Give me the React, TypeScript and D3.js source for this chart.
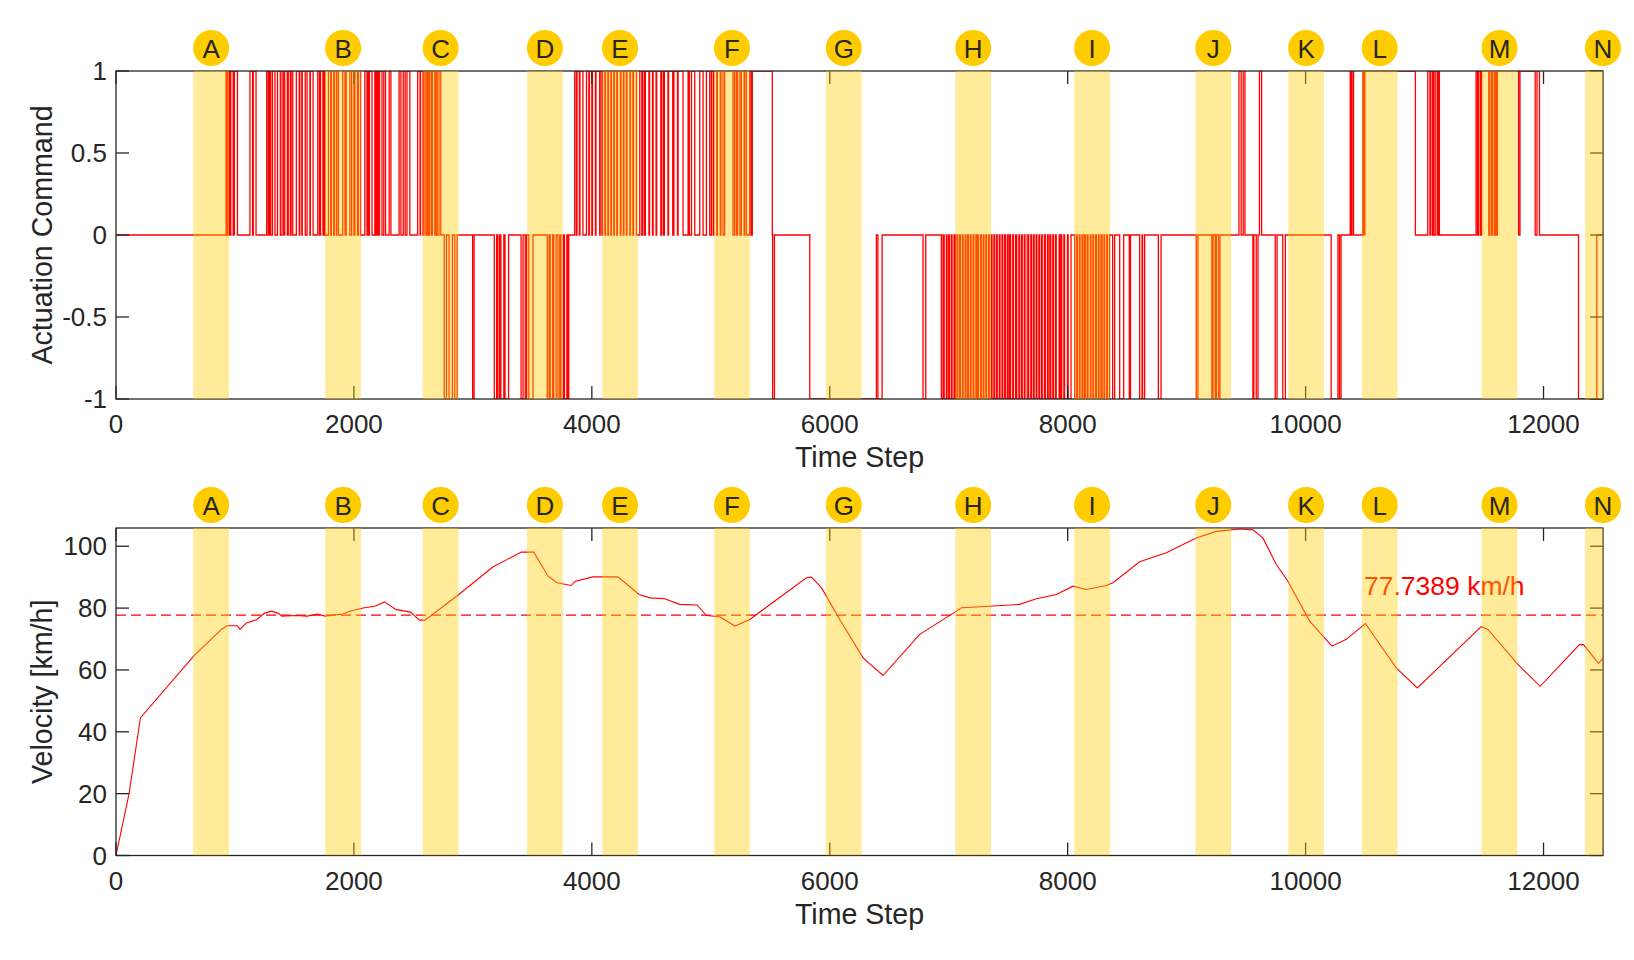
import * as d3 from 'd3';

// event markers (time step at the centre of each highlighted window)
const eventLabels = ['A', 'B', 'C', 'D', 'E', 'F', 'G', 'H', 'I', 'J', 'K', 'L', 'M', 'N'];
const eventSteps = [800, 1909, 2729, 3605, 4237, 5178, 6118, 7206, 8205, 9224, 10004, 10623, 11630, 12500];
const bandHalfWidth = 150;

// actuation command: intervals at +1 and at -1, zero elsewhere
const pulsesUp: [number, number][] = [
  [925, 935], [942, 955], [965, 985], [995, 1021],
  [1126, 1148], [1154, 1177],
  [1267, 1280], [1290, 1300], [1315, 1336], [1357, 1381],
  [1396, 1410], [1418, 1440], [1448, 1465], [1472, 1486],
  [1516, 1540], [1545, 1562], [1566, 1591], [1606, 1630], [1634, 1657],
  [1696, 1710], [1720, 1740], [1745, 1756],
  [1786, 1805], [1810, 1830], [1835, 1852], [1856, 1870],
  [1906, 1925], [1935, 1966], [1981, 2000], [2008, 2030], [2038, 2056],
  [2092, 2110], [2115, 2125], [2130, 2152],
  [2176, 2185], [2195, 2205], [2215, 2236], [2251, 2266], [2296, 2311],
  [2380, 2395], [2415, 2431], [2446, 2470],
  [2536, 2556], [2560, 2581],
  [2590, 2605], [2615, 2625], [2635, 2650], [2660, 2680], [2690, 2700], [2715, 2730],
  [3856, 3870], [3875, 3895], [3900, 3925], [3955, 3975], [3980, 4000], [4005, 4030], [4035, 4066],
  [4070, 4085], [4090, 4110], [4115, 4135], [4140, 4160], [4165, 4185], [4190, 4210],
  [4215, 4240], [4245, 4265], [4270, 4290], [4295, 4320], [4325, 4345], [4350, 4375],
  [4403, 4420], [4425, 4440], [4450, 4480], [4485, 4510], [4515, 4540], [4545, 4580],
  [4585, 4600], [4610, 4640], [4645, 4680], [4690, 4720], [4725, 4767],
  [4809, 4820], [4838, 4865], [4907, 4935], [4963, 4991], [5005, 5020],
  [5025, 5050], [5055, 5080], [5085, 5103], [5117, 5187],
  [5200, 5215], [5225, 5245], [5257, 5280], [5285, 5299],
  [5327, 5340], [5349, 5517],
  [9440, 9458], [9475, 9490], [9612, 9630],
  [10375, 10385], [10390, 10403], [10481, 10490], [10498, 10923],
  [11027, 11045], [11050, 11065], [11072, 11080], [11095, 11110], [11115, 11125],
  [11433, 11445], [11455, 11470], [11480, 11540], [11545, 11560], [11570, 11585],
  [11596, 11605], [11612, 11790], [11802, 11930], [11945, 11966],
];

const pulsesDown: [number, number][] = [
  [2759, 2778], [2800, 2828], [2848, 2868], [2998, 3010],
  [3180, 3200], [3210, 3225], [3235, 3260], [3270, 3300],
  [3405, 3422], [3440, 3452], [3470, 3505],
  [3625, 3640], [3650, 3670], [3680, 3700], [3715, 3730], [3740, 3760], [3770, 3790], [3796, 3806],
  [5520, 5535], [5832, 6392], [6405, 6440], [6784, 6807],
  [6938, 6952], [6962, 6980], [6986, 7000], [7006, 7022], [7028, 7045], [7055, 7070],
  [7076, 7092], [7098, 7115], [7121, 7138], [7144, 7158], [7166, 7182], [7188, 7205],
  [7211, 7228], [7234, 7242], [7250, 7268], [7274, 7290], [7296, 7312], [7318, 7335],
  [7341, 7358], [7364, 7380], [7386, 7402], [7408, 7425], [7431, 7448], [7454, 7470],
  [7476, 7492], [7498, 7510], [7520, 7538], [7544, 7562], [7572, 7590], [7596, 7612],
  [7618, 7635], [7641, 7660], [7672, 7690], [7696, 7712], [7718, 7735], [7741, 7758],
  [7764, 7780], [7786, 7804], [7812, 7830], [7836, 7850], [7858, 7875], [7881, 7898],
  [7904, 7928], [7938, 7944], [7950, 7968], [7974, 7998], [8004, 8028],
  [8059, 8075], [8081, 8098], [8104, 8120], [8126, 8140], [8150, 8165], [8171, 8190],
  [8196, 8212], [8218, 8235], [8241, 8258], [8264, 8280], [8290, 8305], [8311, 8328], [8334, 8352],
  [8378, 8395], [8437, 8471], [8518, 8528], [8605, 8625], [8630, 8647], [8762, 8785],
  [9081, 9095], [9212, 9222], [9240, 9250], [9268, 9280],
  [9557, 9565], [9585, 9600], [9745, 9760], [9808, 9830],
  [10215, 10272], [10285, 10298],
  [12294, 12448],
];

// vehicle velocity [km/h]
const velSteps = [
  0, 110, 205, 652, 886, 930, 1020, 1042, 1096, 1186, 1246, 1306, 1366, 1395, 1516, 1606,
  1697, 1756, 1907, 1966, 2087, 2176, 2257, 2356, 2476, 2551, 2597, 2866, 3167, 3407, 3512,
  3632, 3707, 3827, 3857, 4008, 4218, 4307, 4397, 4487, 4613, 4739, 4885, 4964, 5076, 5202,
  5328, 5524, 5804, 5846, 5930, 6084, 6280, 6448, 6756, 7036, 7107, 7345, 7597, 7737, 7905,
  8045, 8157, 8325, 8381, 8605, 8829, 9081, 9249, 9445, 9557, 9641, 9754, 9851, 10034, 10221,
  10342, 10502, 10762, 10939, 11476, 11532, 11784, 11972, 12302, 12336, 12462, 12504,
];
const velKmh = [
  0, 20, 44.5, 64.5, 73.1, 74.3, 74.3, 73.1, 75.2, 76.3, 78.3, 79.0, 78.3, 77.4, 77.6, 77.4,
  78.1, 77.4, 78.1, 79.0, 80.1, 80.6, 82.0, 79.5, 78.7, 76.1, 76.1, 83.9, 93.3, 98.1, 98.1,
  90.3, 88.2, 87.3, 88.6, 90.1, 90.1, 87.3, 84.4, 83.3, 83.0, 81.2, 81.0, 77.6, 77.2, 74.2,
  76.3, 81.9, 89.8, 90.0, 86.6, 76.3, 63.9, 58.2, 71.5, 78.3, 80.1, 80.6, 81.2, 83.0, 84.4,
  87.1, 86.0, 87.3, 88.2, 95.0, 97.9, 102.7, 104.8, 105.6, 105.3, 102.7, 94.1, 88.7, 75.8, 67.7,
  69.9, 75.0, 60.7, 54.2, 74.0, 73.1, 61.8, 54.7, 68.2, 68.2, 62.1, 63.9,
];
const meanVelocity = 77.7389;

const stepTicks = [0, 2000, 4000, 6000, 8000, 10000, 12000];
const cmdTicks = [-1, -0.5, 0, 0.5, 1];
const velTicks = [0, 20, 40, 60, 80, 100];

const FONT = '"Liberation Sans", Arial, Helvetica, sans-serif';
const INK = '#262626';
const LEFT = 116;
const RIGHT = 1603;

const x = d3.scaleLinear().domain([0, 12500]).range([LEFT, RIGHT]);

interface PanelProps {
  id: string;
  top: number;
  bottom: number;
  y: d3.ScaleLinear<number, number>;
  yTicks: number[];
  yLabel: string;
  children: any;
}

const Panel = ({ id, top, bottom, y, yTicks, yLabel, children }: PanelProps) => {
  const tick = 13;
  return (
    <g>
      <defs>
        <clipPath id={id}>
          <rect x={LEFT} y={top} width={RIGHT - LEFT} height={bottom - top} />
        </clipPath>
      </defs>
      <g clipPath={`url(#${id})`}>{children}</g>

      {/* axes box and inward ticks on all sides */}
      <rect x={LEFT} y={top} width={RIGHT - LEFT} height={bottom - top}
        fill="none" stroke={INK} strokeWidth={1.3} />
      {stepTicks.map(t => (
        <g key={'x' + t}>
          <line x1={x(t)} x2={x(t)} y1={bottom} y2={bottom - tick} stroke={INK} strokeWidth={1.3} />
          <line x1={x(t)} x2={x(t)} y1={top} y2={top + tick} stroke={INK} strokeWidth={1.3} />
          <text x={x(t)} y={bottom + 34} textAnchor="middle" fontSize={26} fill={INK}>{t}</text>
        </g>
      ))}
      {yTicks.map(v => (
        <g key={'y' + v}>
          <line x1={LEFT} x2={LEFT + tick} y1={y(v)} y2={y(v)} stroke={INK} strokeWidth={1.3} />
          <line x1={RIGHT} x2={RIGHT - tick} y1={y(v)} y2={y(v)} stroke={INK} strokeWidth={1.3} />
          <text x={LEFT - 9} y={y(v) + 9} textAnchor="end" fontSize={26} fill={INK}>{String(v)}</text>
        </g>
      ))}
      <text x={(LEFT + RIGHT) / 2} y={bottom + 68} textAnchor="middle" fontSize={28.6} fill={INK}>Time Step</text>
      <text transform={`translate(52, ${(top + bottom) / 2}) rotate(-90)`} textAnchor="middle"
        fontSize={28.6} fill={INK}>{yLabel}</text>

      {/* highlighted windows, drawn translucent over the data */}
      <g clipPath={`url(#${id})`}>
        {eventSteps.map((s, i) => (
          <rect key={i} x={x(s - bandHalfWidth)} y={top}
            width={x(s + bandHalfWidth) - x(s - bandHalfWidth)} height={bottom - top}
            fill="rgb(255,204,0)" fillOpacity={0.4} />
        ))}
      </g>
      {eventSteps.map((s, i) => (
        <g key={'e' + i}>
          <circle cx={x(s)} cy={top - 23} r={18} fill="#FFCC00" />
          <text x={x(s)} y={top - 23 + 9.5} textAnchor="middle" fontSize={26} fill={INK}>{eventLabels[i]}</text>
        </g>
      ))}
    </g>
  );
};

const App = () => {
  const yCmd = d3.scaleLinear().domain([-1, 1]).range([399, 71]);
  const yVel = d3.scaleLinear().domain([0, 105.9]).range([855.5, 528]);

  const pulses = [
    ...pulsesUp.map(([a, b]) => ({ a, b, v: 1 })),
    ...pulsesDown.map(([a, b]) => ({ a, b, v: -1 })),
  ].sort((p, q) => p.a - q.a);
  const cmdPts: [number, number][] = [[0, 0]];
  pulses.forEach(p => {
    cmdPts.push([p.a, 0], [p.a, p.v], [p.b, p.v], [p.b, 0]);
  });
  cmdPts.push([12500, 0]);

  const cmdLine = d3.line<[number, number]>()
    .x(d => x(d[0]))
    .y(d => yCmd(d[1]));

  const velLine = d3.line<number>()
    .x((_, i) => x(velSteps[i]))
    .y(d => yVel(d));

  return (
    <svg width={1634} height={960} style={{ position: 'absolute', left: 0, top: 0, background: '#fff' }}
      fontFamily={FONT}>
      <rect width={1634} height={960} fill="#fff" />
      <Panel id="clip-cmd" top={71} bottom={399} y={yCmd} yTicks={cmdTicks} yLabel="Actuation Command">
        <path d={cmdLine(cmdPts) || ''} fill="none" stroke="#ff0000" strokeWidth={1.3} />
      </Panel>
      <Panel id="clip-vel" top={528} bottom={855.5} y={yVel} yTicks={velTicks} yLabel="Velocity [km/h]">
        <path d={velLine(velKmh) || ''} fill="none" stroke="#ff0000" strokeWidth={1.1} />
        <line x1={LEFT} x2={RIGHT} y1={yVel(meanVelocity)} y2={yVel(meanVelocity)}
          stroke="#ff0000" strokeWidth={1.1} strokeDasharray="10,5" />
        <text x={1364} y={595} fontSize={26.5} fill="#ff0000">{meanVelocity.toFixed(4)} km/h</text>
      </Panel>
    </svg>
  );
};

export default App;
